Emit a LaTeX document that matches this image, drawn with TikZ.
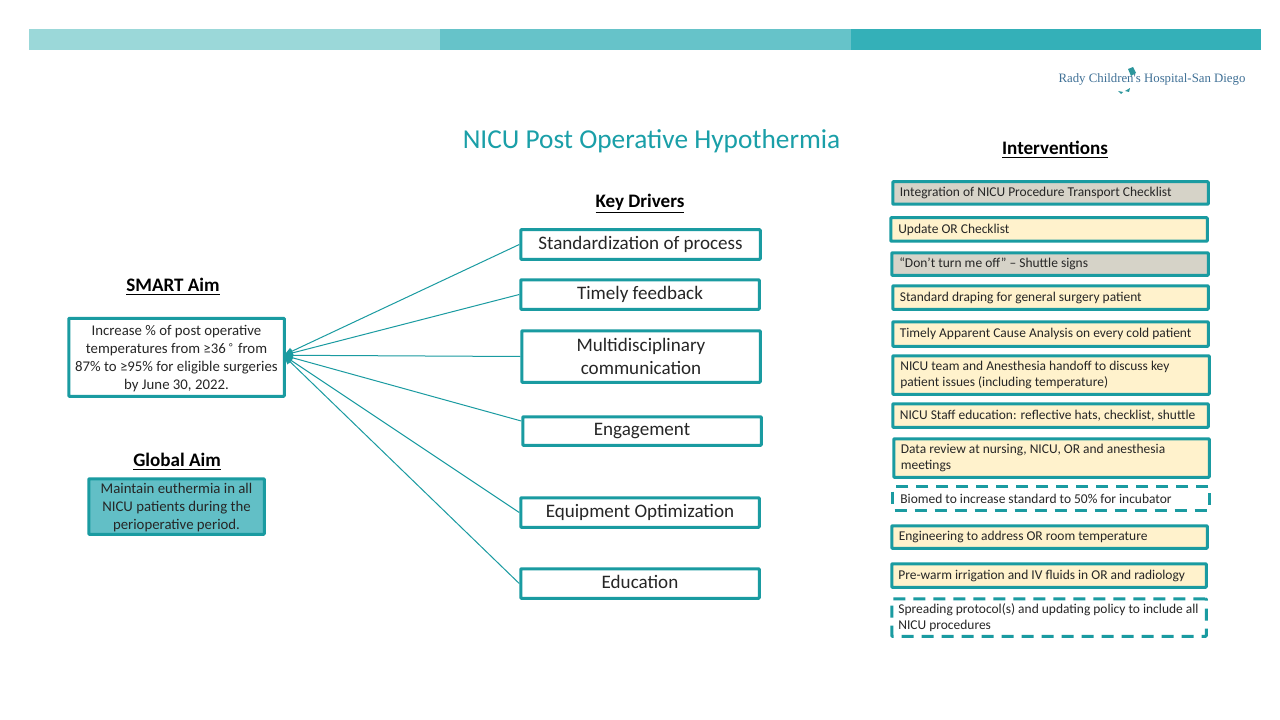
\documentclass[tikz,border=0pt]{standalone}
\usepackage{fontspec}
\setmainfont{Carlito}
\newfontfamily\logofont{Liberation Serif}
\newfontfamily\symfont{DejaVu Sans}
\usetikzlibrary{arrows.meta}
\definecolor{barA}{HTML}{9BD8D9}
\definecolor{barB}{HTML}{66C3C9}
\definecolor{barC}{HTML}{34B0B8}
\definecolor{edgeC}{HTML}{1A9BA1}
\definecolor{titleC}{HTML}{1A9FA8}
\definecolor{creamC}{HTML}{FFF2CC}
\definecolor{greyC}{HTML}{D6D3C8}
\definecolor{globalC}{HTML}{62BFC6}
\definecolor{logoC}{HTML}{3F7096}
\definecolor{inkC}{HTML}{262626}
\tikzset{
 x=0.75pt,y=-0.75pt,
 box/.style={draw=edgeC,line width=2.25pt,rounded corners=0.6pt,inner sep=0pt,text=inkC,align=center},
 drv/.style={box,font=\fontsize{14.3}{17.3}\selectfont},
 itv/.style={box,align=left,font=\fontsize{10.1}{12.1}\selectfont},
 cream/.style={itv,fill=creamC},
 greybox/.style={itv,fill=greyC},
 dashbox/.style={itv,dash pattern=on 9pt off 6pt},
 head/.style={font=\fontsize{14.3}{16}\selectfont\bfseries,text=black,inner sep=0pt},
 link/.style={draw=edgeC,line width=0.75pt,-{Latex[length=7pt,width=6pt]}},
}
\newcommand{\bx}[7]{% style,name,x0,y0,x1,y1,text
 \pgfmathsetmacro{\bw}{(#5-#3-1.5)*0.75}\pgfmathsetmacro{\bh}{(#6-#4-1.5)*0.75}
 \node[#1,minimum width=\bw pt,minimum height=\bh pt] (#2) at ({(#3+#5)/2},{(#4+#6)/2}) {#7};}
\newcommand{\itx}[1]{\parbox{226pt}{\raggedright #1}}
\newcommand{\sgl}[1]{\vphantom{Agp}#1}
\begin{document}
\begin{tikzpicture}
\useasboundingbox (0,0) rectangle (1280,720);
\fill[white] (0,0) rectangle (1280,720);
\fill[barA] (29,29) rectangle (440,50);
\fill[barB] (440,29) rectangle (851,50);
\fill[barC] (851,29) rectangle (1261,50);
% logo
\node[inner sep=0pt,text=logoC,font=\logofont\fontsize{9.6}{11}\selectfont] (logo) at (1152,79.5) {Rady Children's Hospital-San Diego};
\fill[barC!85!black] (1128,69) -- (1133,67) -- (1136,73) -- (1131,76) -- cycle;
\fill[barC!85!black] (1118,91) -- (1123,92) -- (1121,94) -- cycle;
\fill[barC!85!black] (1125,91) -- (1130,88) -- (1129,92) -- cycle;
% title
\node[inner sep=0pt,text=titleC,font=\fontsize{20.5}{24}\selectfont] (title) at (651.5,141.5) {NICU Post Operative Hypothermia};
% headings
\node[head] (hsmart) at (173,286.5) {\underline{SMART Aim}};
\node[head] (hglobal) at (177,461.5) {\underline{Global Aim}};
\node[head] (hkey) at (640,203.5) {\underline{Key Drivers}};
\node[head] (hint) at (1055,149.5) {\underline{Interventions}};
% aims
\bx{box,font=\fontsize{11.1}{13.3}\selectfont}{smart}{68}{317.5}{285}{397}{\rule{0pt}{9.7pt}Increase \% of post operative\\temperatures from ≥36\textsuperscript{\,\symfont ∘} from\\87\% to ≥95\% for eligible surgeries\\by June 30, 2022.}
\bx{box,fill=globalC,font=\fontsize{11.1}{13.5}\selectfont}{global}{88}{478}{265}{535}{\rule{0pt}{9.7pt}Maintain euthermia in all\\NICU patients during the\\perioperative period.}
% drivers
\bx{drv}{d1}{520}{229}{761}{260}{\sgl{Standardization of process}}
\bx{drv}{d2}{520}{279}{760}{310}{\sgl{Timely feedback}}
\bx{drv}{d3}{521}{330}{761}{383}{Multidisciplinary\\communication}
\bx{drv}{d4}{522}{416}{762}{446}{\sgl{Engagement}}
\bx{drv}{d5}{520}{497}{760}{528}{\sgl{Equipment Optimization}}
\bx{drv}{d6}{520}{568}{760}{599}{\sgl{Education}}
\coordinate (tip) at ([yshift=1.5pt,xshift=-1.8pt]smart.east);
\foreach \d in {d1,d2,d3,d5,d6}{\draw[link] (\d.west) -- (tip);}
\draw[link] ([yshift=7.5pt]d4.west) -- (tip);
% interventions
\bx{greybox}{i1}{892}{181}{1209}{205}{\itx{Integration of NICU Procedure Transport Checklist}}
\bx{cream}{i2}{890}{217}{1208}{242}{\itx{Update OR Checklist}}
\bx{greybox}{i3}{891}{252}{1209}{276}{\itx{“Don’t turn me off” – Shuttle signs}}
\bx{cream}{i4}{892}{285}{1209}{310}{\itx{Standard draping for general surgery patient}}
\bx{cream}{i5}{892}{321}{1209}{347}{\itx{Timely Apparent Cause Analysis on every cold patient}}
\bx{cream}{i6}{892}{355}{1210}{395}{\itx{NICU team and Anesthesia handoff to discuss key\\patient issues (including temperature)}}
\bx{cream}{i7}{892}{403}{1209}{428}{\itx{NICU Staff education: reflective hats, checklist, shuttle}}
\bx{cream}{i8}{893}{438}{1210}{478}{\itx{Data review at nursing, NICU, OR and anesthesia\\meetings}}
\bx{dashbox}{i9}{892}{486}{1210}{511}{\itx{Biomed to increase standard to 50\% for incubator}}
\bx{cream}{i10}{891}{525}{1208}{549}{\itx{Engineering to address OR room temperature}}
\bx{cream}{i11}{891}{563}{1207}{588}{\itx{Pre-warm irrigation and IV fluids in OR and radiology}}
\bx{dashbox}{i12}{891}{598}{1207}{637}{\itx{Spreading protocol(s) and updating policy to include all\\NICU procedures}}
\end{tikzpicture}
\end{document}
